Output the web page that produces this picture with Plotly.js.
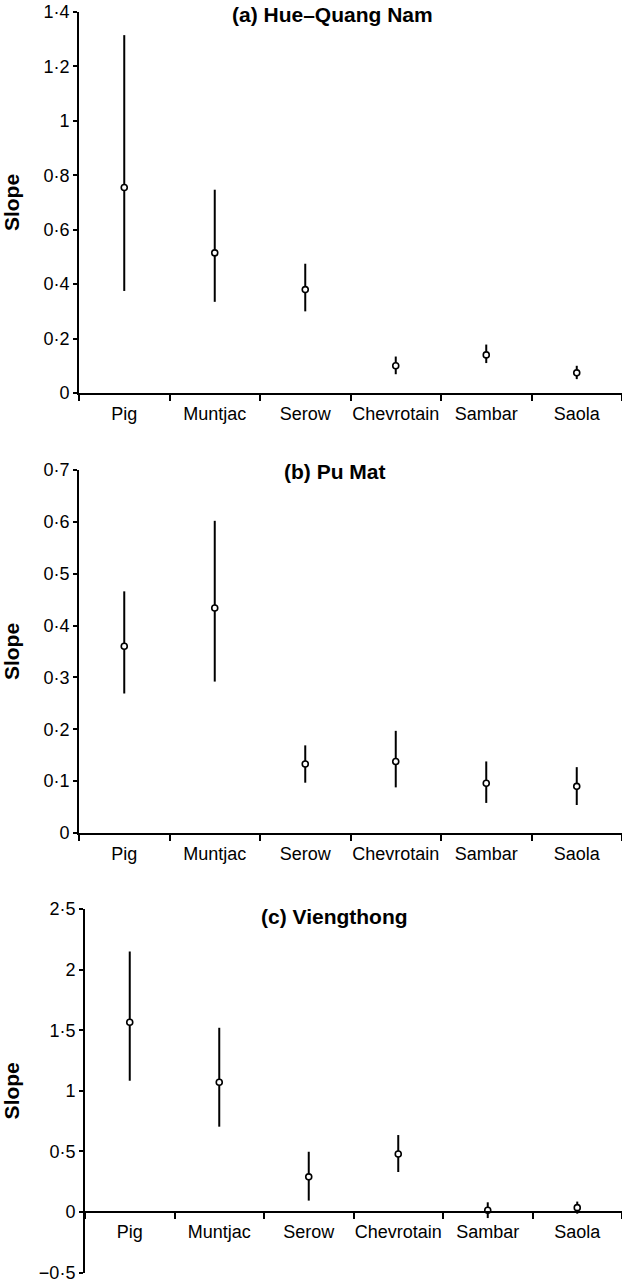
<!DOCTYPE html>
<html>
<head>
<meta charset="utf-8">
<script src="https://cdn.plot.ly/plotly-3.0.1.min.js"></script>
<style>html,body{margin:0;padding:0;background:#fff;}#chart{width:622px;height:1283px;}</style>
</head>
<body>
<div id="chart"></div>
<script>
const categories = ['Pig', 'Muntjac', 'Serow', 'Chevrotain', 'Sambar', 'Saola'];

const hueEst   = [0.755, 0.515, 0.380, 0.100, 0.140, 0.074];
const hueUpper = [1.315, 0.747, 0.475, 0.134, 0.178, 0.100];
const hueLower = [0.375, 0.335, 0.300, 0.069, 0.110, 0.051];

const puEst   = [0.360, 0.434, 0.133, 0.138, 0.096, 0.090];
const puUpper = [0.466, 0.602, 0.169, 0.197, 0.138, 0.127];
const puLower = [0.269, 0.292, 0.097, 0.088, 0.058, 0.054];

const viEst   = [1.566, 1.070, 0.290, 0.478, 0.014, 0.036];
const viUpper = [2.150, 1.520, 0.497, 0.635, 0.080, 0.086];
const viLower = [1.083, 0.704, 0.094, 0.330, -0.050, -0.014];

const panelTitles = ['(a) Hue\u2013Quang Nam', '(b) Pu Mat', '(c) Viengthong'];

const yTickValsA = [0, 0.2, 0.4, 0.6, 0.8, 1, 1.2, 1.4];
const yTickTextA = ['0', '0\u00b72', '0\u00b74', '0\u00b76', '0\u00b78', '1', '1\u00b72', '1\u00b74'];
const yTickValsB = [0, 0.1, 0.2, 0.3, 0.4, 0.5, 0.6, 0.7];
const yTickTextB = ['0', '0\u00b71', '0\u00b72', '0\u00b73', '0\u00b74', '0\u00b75', '0\u00b76', '0\u00b77'];
const yTickValsC = [-0.5, 0, 0.5, 1, 1.5, 2, 2.5];
const yTickTextC = ['\u22120\u00b75', '0', '0\u00b75', '1', '1\u00b75', '2', '2\u00b75'];

const FONT = 'Liberation Sans, Arial, Helvetica, sans-serif';
const H = 1283, W = 622;

function trace(est, up, lo, xa, ya) {
  return {
    type: 'scatter', mode: 'markers', x: categories, y: est, xaxis: xa, yaxis: ya,
    cliponaxis: false, hoverinfo: 'skip',
    marker: { symbol: 'circle', size: 6, color: '#fff', line: { color: '#000', width: 1.6 } },
    error_y: {
      type: 'data', symmetric: false,
      array: up.map((u, i) => u - est[i]),
      arrayminus: lo.map((l, i) => est[i] - l),
      width: 0, thickness: 2, color: '#000'
    }
  };
}

const data = [
  trace(hueEst, hueUpper, hueLower, 'x', 'y'),
  trace(puEst, puUpper, puLower, 'x2', 'y2'),
  trace(viEst, viUpper, viLower, 'x3', 'y3')
];

function xax(domain, anchor, extra) {
  return Object.assign({
    type: 'category', categoryorder: 'array', categoryarray: categories,
    domain: domain, anchor: anchor, range: [-0.5, 5.5],
    showgrid: false, zeroline: false, showline: true, linecolor: '#000', linewidth: 2,
    ticks: 'outside', tickson: 'boundaries', ticklen: 6, tickwidth: 2, tickcolor: '#000',
    tickangle: 0, ticklabelstandoff: 3,
    tickfont: { family: FONT, size: 18, color: '#000' }, automargin: false, fixedrange: true
  }, extra || {});
}
function yax(domain, anchor, range, vals, text) {
  return {
    domain: domain, anchor: anchor, range: range,
    tickmode: 'array', tickvals: vals, ticktext: text,
    showgrid: false, zeroline: false, showline: true, linecolor: '#000', linewidth: 2,
    ticks: 'outside', ticklen: 4, tickwidth: 2, tickcolor: '#000',
    tickfont: { family: FONT, size: 18, color: '#000' },
    title: { text: '<b>Slope</b>', font: { family: FONT, size: 21, color: '#000' }, standoff: 18 },
    automargin: false, fixedrange: true
  };
}
const f = px => 1 - px / H;

const layout = {
  width: W, height: H,
  margin: { l: 0, r: 0, t: 0, b: 0 },
  paper_bgcolor: '#fff', plot_bgcolor: '#fff',
  showlegend: false,
  font: { family: FONT, color: '#000' },
  xaxis: xax([79 / W, 1], 'y'),
  yaxis: yax([f(393), f(12)], 'x', [0, 1.4], yTickValsA, yTickTextA),
  xaxis2: xax([79 / W, 1], 'y2'),
  yaxis2: yax([f(833), f(470)], 'x2', [0, 0.7], yTickValsB, yTickTextB),
  xaxis3: xax([85 / W, 1], 'free', { position: f(1212) }),
  yaxis3: yax([f(1272.6), f(909)], 'x3', [-0.5, 2.5], yTickValsC, yTickTextC),
  annotations: [
    { text: '<b>' + panelTitles[0] + '</b>', xref: 'paper', yref: 'paper', x: 332 / W, y: f(15), xanchor: 'center', yanchor: 'middle', showarrow: false, font: { family: FONT, size: 21, color: '#000' } },
    { text: '<b>' + panelTitles[1] + '</b>', xref: 'paper', yref: 'paper', x: 335 / W, y: f(472), xanchor: 'center', yanchor: 'middle', showarrow: false, font: { family: FONT, size: 21, color: '#000' } },
    { text: '<b>' + panelTitles[2] + '</b>', xref: 'paper', yref: 'paper', x: 335 / W, y: f(916), xanchor: 'center', yanchor: 'middle', showarrow: false, font: { family: FONT, size: 21, color: '#000' } }
  ]
};

Plotly.newPlot('chart', data, layout, { displayModeBar: false, staticPlot: true });
</script>
</body>
</html>
